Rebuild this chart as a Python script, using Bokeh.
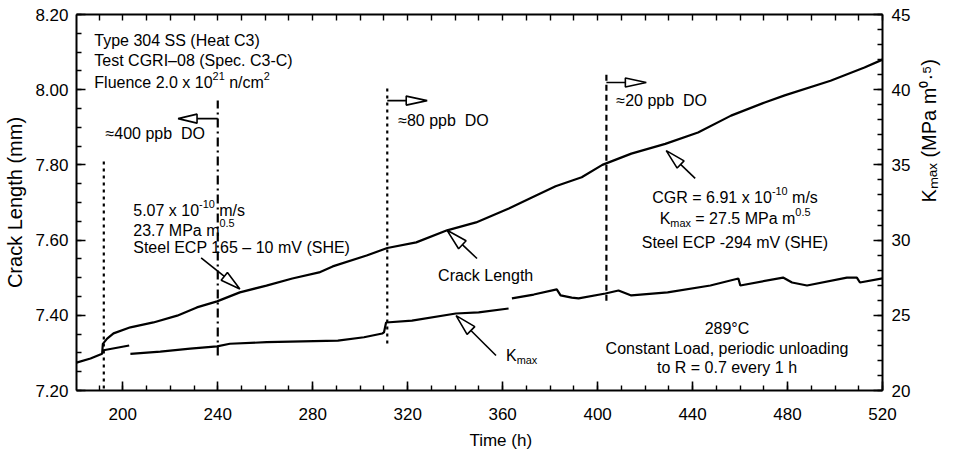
import math
import numpy as np
from bokeh.plotting import figure
from bokeh.models import Range1d, LinearAxis, FixedTicker, Label, NumeralTickFormatter
from bokeh.embed import file_html
from bokeh.resources import INLINE

# ---------------- data ----------------
time_ticks = [200, 240, 280, 320, 360, 400, 440, 480, 520]
crack_ticks = [7.20, 7.40, 7.60, 7.80, 8.00, 8.20]
kmax_ticks = [20, 25, 30, 35, 40, 45]

# crack length (mm) vs time (h)
crack_time = [180.5, 186.4, 191.3, 191.6, 193.4, 196.1, 203.2, 212.9, 222.9, 231.2,
              239.7, 249.3, 260.5, 271.4, 282.7, 288.4, 302.7, 311.4, 323.6, 336.6,
              348.8, 362.6, 372.3, 382.3, 393.3, 402.0, 414.2, 428.5, 442.3, 456.2,
              470.4, 478.8, 498.1, 512.4, 520.0]
crack_mm = [7.274, 7.285, 7.298, 7.324, 7.338, 7.352, 7.368, 7.381, 7.399, 7.421,
            7.437, 7.461, 7.479, 7.498, 7.514, 7.530, 7.559, 7.579, 7.594, 7.626,
            7.647, 7.684, 7.713, 7.743, 7.767, 7.800, 7.830, 7.856, 7.886, 7.931,
            7.966, 7.985, 8.024, 8.059, 8.080]

# K_max (MPa m^0.5) vs time (h); NaN marks a break in the record
nan = float("nan")
kmax_time = [191.3, 202.7, nan,
             203.2, 215.8, 228.4, 239.7, 245.1, 260.6, 290.6, 301.6, 309.3, 310.0,
             310.9, 321.8, 340.3, 349.9, 362.5, nan,
             363.9, 373.1, 382.8, 384.4, 389.1, 392.0, 403.3, 408.8, 414.2, 429.5,
             447.5, 459.3, 460.1, 478.1, 481.9, 488.2, 505.0, 509.2, 510.5, 520.0]
kmax_val = [22.66, 22.99, nan,
            22.44, 22.59, 22.79, 22.93, 23.11, 23.21, 23.32, 23.54, 23.79, 23.86,
            24.52, 24.65, 25.12, 25.19, 25.45, nan,
            26.12, 26.38, 26.72, 26.32, 26.18, 26.12, 26.45, 26.65, 26.32, 26.52,
            26.98, 27.45, 26.98, 27.51, 27.18, 26.98, 27.51, 27.51, 27.18, 27.45]

# water chemistry changes (h)
do_change_time = [192, 240, 311.4, 403.7]

# ---------------- figure ----------------
X0, X1 = 180.5, 520.0
Y0, Y1 = 7.2, 8.2
FRAME_W, FRAME_H = 809, 376
PXH = FRAME_W / (X1 - X0)     # px per hour
PXV = FRAME_H / (Y1 - Y0)     # px per mm
FONT = "Liberation Sans"

p = figure(width=954, height=453, x_range=Range1d(X0, X1), y_range=Range1d(Y0, Y1),
           output_backend="svg", toolbar_location=None,
           min_border_left=76, min_border_right=69, min_border_top=14, min_border_bottom=63)
p.grid.visible = False
p.outline_line_color = None
p.background_fill_color = "white"
p.border_fill_color = "white"
p.extra_y_ranges = {"kmax": Range1d(20, 45)}


def style_axis(ax, standoff=8, size="17px"):
    ax.axis_line_width = 2
    ax.axis_line_color = "black"
    ax.major_tick_in = 9
    ax.major_tick_out = 0
    ax.minor_tick_in = 5
    ax.minor_tick_out = 0
    ax.major_tick_line_width = 1.6
    ax.minor_tick_line_width = 1.4
    ax.major_tick_line_color = "black"
    ax.minor_tick_line_color = "black"
    ax.major_label_text_font = FONT
    ax.major_label_text_font_size = size
    ax.major_label_text_color = "black"
    ax.major_label_standoff = standoff
    ax.axis_label_text_font = FONT
    ax.axis_label_text_font_style = "normal"
    ax.axis_label_text_color = "black"


x_minor = list(range(190, 521, 10))
xt = FixedTicker(ticks=time_ticks, minor_ticks=x_minor)
yt = FixedTicker(ticks=crack_ticks, minor_ticks=[round(v, 2) for v in np.arange(7.2, 8.21, 0.05)])
kt = FixedTicker(ticks=kmax_ticks, minor_ticks=list(range(20, 46)))

xa = p.xaxis[0]
xa.ticker = xt
style_axis(xa, standoff=17)
xa.axis_label = "\u00a0" * 9 + "Time (h)"
xa.axis_label_text_font_size = "17px"
xa.axis_label_standoff = 8

ya = p.yaxis[0]
ya.ticker = yt
ya.formatter = NumeralTickFormatter(format="0.00")
style_axis(ya, standoff=8)
ya.axis_label = "Crack Length (mm)"
ya.axis_label_text_font_size = "20px"
ya.axis_label_standoff = 6

# mirrored top axis: tick marks only
top = LinearAxis(ticker=FixedTicker(ticks=[], minor_ticks=x_minor))
style_axis(top, standoff=0)
top.minor_tick_in = 6
p.add_layout(top, "above")

right = LinearAxis(y_range_name="kmax", ticker=kt)
style_axis(right, standoff=9)
right.axis_label = "K\u2098\u2090\u2093 (MPa m\u2070\u00b7\u2075)"
right.axis_label_text_font_size = "20px"
right.axis_label_standoff = 16
right.axis_label_orientation = math.pi / 2
p.add_layout(right, "right")

# ---------------- curves ----------------
p.line(crack_time, crack_mm, line_color="black", line_width=2.2)
p.line(kmax_time, kmax_val, y_range_name="kmax", line_color="black", line_width=2.2)

# chemistry-change markers
marker_spans = [(7.205, 7.820), (7.293, 7.971), (7.325, 8.003), (7.439, 8.046)]
marker_dash = ["3 4", "9 4 2 4", "3 4", "6 4"]
for t, (a, b), d in zip(do_change_time, marker_spans, marker_dash):
    p.line([t, t], [a, b], line_color="black", line_width=2.2, line_dash=d)

# ---------------- text helpers ----------------
_W = {}
for chars, w in [("0123456789", 556), (" ,./:;!\u00a0fIt", 278), ("()-r", 333),
                 ("ABEKPSVXY", 667), ("CDHNRUw", 722), ("FTZ", 611), ("GOQ", 778),
                 ("L", 556), ("M", 833), ("W", 944), ("J", 500),
                 ("abdeghnopqu", 556), ("ckvsxyz", 500), ("ijl", 222), ("m", 833),
                 ("=+\u2212\u2248", 584), ("\u2013", 556), ("\u00b0", 400)]:
    for c in chars:
        _W[c] = w


def text_width(s, size):
    return sum(_W.get(c, 556) for c in s) * size / 1000.0


def rich(t, v, parts, size=16, align="left", scale=0.68):
    """Draw a line of text made of normal / superscript / subscript pieces,
    centred vertically on (t, v)."""
    sizes = [size * (1 if k == "n" else scale) for _, k in parts]
    widths = [text_width(s, sz) for (s, _), sz in zip(parts, sizes)]
    total = sum(widths)
    pos = {"left": 0.0, "center": -total / 2, "right": -total}[align]
    base = -0.02 * size
    for (s, k), sz, w in zip(parts, sizes, widths):
        rise = base + {"n": 0.0, "sup": 0.45 * size, "sub": -0.25 * size}[k]
        txt = s
        if txt.startswith(" "):
            txt = "\u00a0" + txt[1:]
        if txt.endswith(" "):
            txt = txt[:-1] + "\u00a0"
        p.add_layout(Label(x=t, y=v, x_offset=pos, y_offset=rise, text=txt,
                           text_font=FONT, text_font_size=f"{sz:.1f}px",
                           text_color="black", text_align="left",
                           text_baseline="alphabetic"))
        pos += w


def arrow(t0, v0, t1, v1, head_len=20, head_w=10, lw=1.6):
    dx = (t1 - t0) * PXH
    dy = (v1 - v0) * PXV
    L = math.hypot(dx, dy)
    ux, uy = dx / L, dy / L
    bx, by = -ux * head_len, -uy * head_len
    nx, ny = -uy, ux
    bt, bv = t1 + bx / PXH, v1 + by / PXV
    c1 = (t1 + (bx + nx * head_w / 2) / PXH, v1 + (by + ny * head_w / 2) / PXV)
    c2 = (t1 + (bx - nx * head_w / 2) / PXH, v1 + (by - ny * head_w / 2) / PXV)
    p.line([t0, bt], [v0, bv], line_color="black", line_width=lw)
    p.patch([t1, c1[0], c2[0]], [v1, c1[1], c2[1]], fill_color="white",
            line_color="black", line_width=lw)


N, SUP, SUB = "n", "sup", "sub"

# specimen block
rich(188.0, 8.131, [("Type 304 SS (Heat C3)", N)])
rich(188.0, 8.078, [("Test CGRI\u201308 (Spec. C3-C)", N)])
rich(188.0, 8.019, [("Fluence 2.0 x 10", N), ("21", SUP), (" n/cm", N), ("2", SUP)])

# dissolved-oxygen steps
rich(192.7, 7.884, [("\u2248400 ppb\u00a0 DO", N)])
rich(316.0, 7.918, [("\u224880 ppb\u00a0 DO", N)])
rich(407.9, 7.971, [("\u224820 ppb\u00a0 DO", N)])
arrow(240.0, 7.923, 223.3, 7.923, head_len=19, head_w=9)
arrow(311.4, 7.971, 328.2, 7.971, head_len=21, head_w=9)
arrow(403.7, 8.019, 420.5, 8.019, head_len=21, head_w=9)

# 400 ppb results
rich(204.4, 7.679, [("5.07 x 10", N), ("-10", SUP), (" m/s", N)])
rich(204.4, 7.626, [("23.7 MPa m", N), ("0.5", SUP)])
rich(204.4, 7.580, [("Steel ECP 165 \u2013 10 mV (SHE)", N)])
arrow(233.0, 7.553, 249.3, 7.470, head_len=20, head_w=10)

# curve labels
rich(332.8, 7.506, [("Crack Length", N)])
arrow(349.2, 7.551, 336.6, 7.626, head_len=21, head_w=11)
rich(361.4, 7.293, [("K", N), ("max", SUB)])
arrow(357.2, 7.293, 340.4, 7.399, head_len=21, head_w=11)

# 20 ppb results
rich(457.9, 7.713, [("CGR = 6.91 x 10", N), ("-10", SUP), (" m/s", N)], align="center")
rich(457.9, 7.657, [("K", N), ("max", SUB), (" = 27.5 MPa m", N), ("0.5", SUP)], align="center")
rich(457.9, 7.594, [("Steel ECP -294 mV (SHE)", N)], align="center")
arrow(441.1, 7.764, 428.9, 7.838, head_len=20, head_w=10)

# test conditions
rich(454.5, 7.365, [("289\u00b0C", N)], align="center")
rich(454.5, 7.312, [("Constant Load, periodic unloading", N)], align="center")
rich(454.5, 7.261, [("to R = 0.7 every 1 h", N)], align="center")

open("out.html", "w").write(file_html(p, INLINE))
